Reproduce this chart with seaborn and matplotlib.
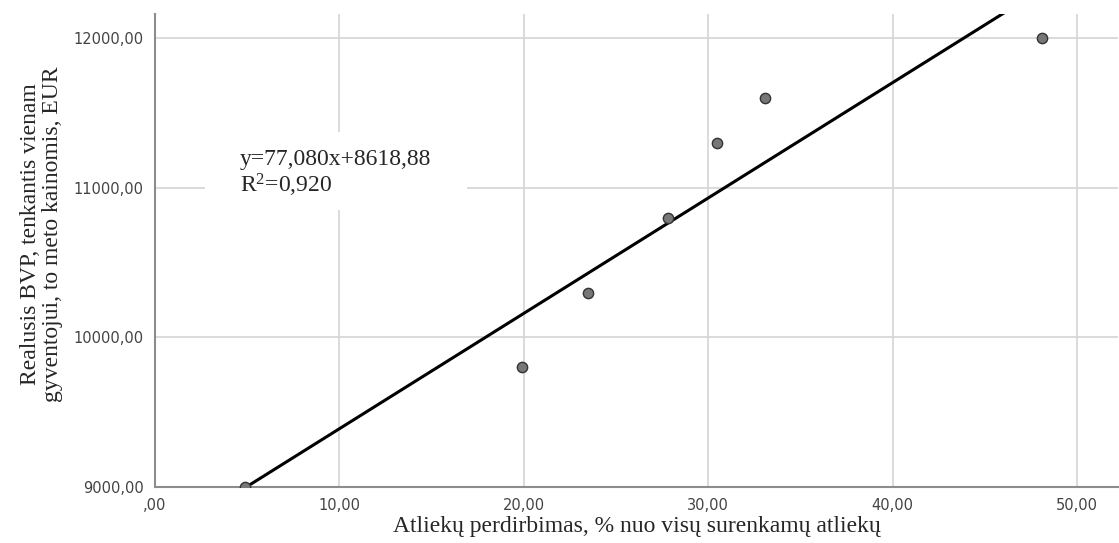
import numpy as np
import pandas as pd
import matplotlib
matplotlib.use("Agg")
import matplotlib.pyplot as plt
import matplotlib.patches as mpatches
import seaborn as sns

# duomenys (nuskaityta iš paveikslo)
perdirbimas = [4.9, 19.9, 23.5, 27.8, 30.5, 33.1, 48.1]
bvp = [9000, 9800, 10300, 10800, 11300, 11600, 12000]
slope, intercept, r2 = 77.080, 8618.88, 0.920
x_ticks = [0, 10, 20, 30, 40, 50]
y_ticks = [9000, 10000, 11000, 12000]

def lt(v, dec=2):
    s = f"{v:.{dec}f}".replace(".", ",")
    return ",00" if v == 0 else s

sns.set_style("white")
plt.rcParams["font.family"] = ["Liberation Serif", "DejaVu Serif"]
plt.rcParams["mathtext.fontset"] = "custom"
plt.rcParams["mathtext.rm"] = "Liberation Serif"
plt.rcParams["mathtext.it"] = "Liberation Serif:italic"

df = pd.DataFrame({"x": perdirbimas, "y": bvp})
xs = np.linspace(min(perdirbimas), max(perdirbimas), 50)
fit = pd.DataFrame({"x": xs, "y": slope * xs + intercept})

fig = plt.figure(figsize=(11.19, 5.43), dpi=100)
ax = fig.add_axes([0.1385, 0.103, 0.861, 0.871])

sns.lineplot(data=fit, x="x", y="y", color="black", linewidth=2.2, ax=ax, zorder=3)
sns.scatterplot(data=df, x="x", y="y", s=55, color="#777777", edgecolor="#333333",
                linewidth=1, ax=ax, zorder=4)

ax.set_xlim(0, 52.25)
ax.set_ylim(9000, 12160)
ax.set_xticks(x_ticks)
ax.set_yticks(y_ticks)
ax.set_xticklabels([lt(v) for v in x_ticks], family="DejaVu Sans", fontsize=10.5, color="#444444")
ax.set_yticklabels([lt(v) for v in y_ticks], family="DejaVu Sans", fontsize=10.5, color="#444444")
ax.tick_params(length=0, pad=8)
ax.grid(True, color="#d4d4d4", linewidth=1.2)
ax.set_axisbelow(True)
for s in ["top", "right"]:
    ax.spines[s].set_visible(False)
for s in ["left", "bottom"]:
    ax.spines[s].set_color("#8c8c8c")
    ax.spines[s].set_linewidth(1.5)

ax.set_xlabel("Atliekų perdirbimas, % nuo visų surenkamų atliekų", fontsize=17, labelpad=2)
ax.set_ylabel("Realusis BVP, tenkantis vienam\ngyventojui, to meto kainomis, EUR",
              fontsize=17, labelpad=8, linespacing=1.05, y=0.535)

# baltas fonas po lygtimi
ax.add_patch(mpatches.Rectangle((0.052, 0.586), 0.272, 0.165, transform=ax.transAxes,
                                facecolor="white", edgecolor="none", zorder=2))
ax.text(4.6, 11260, f"y={lt(slope, 3)}x+{lt(intercept)}\nR$^2$={lt(r2, 3)}",
        fontsize=17, va="top", ha="left", linespacing=1.1, zorder=5)

fig.savefig("out.png", dpi=100)
